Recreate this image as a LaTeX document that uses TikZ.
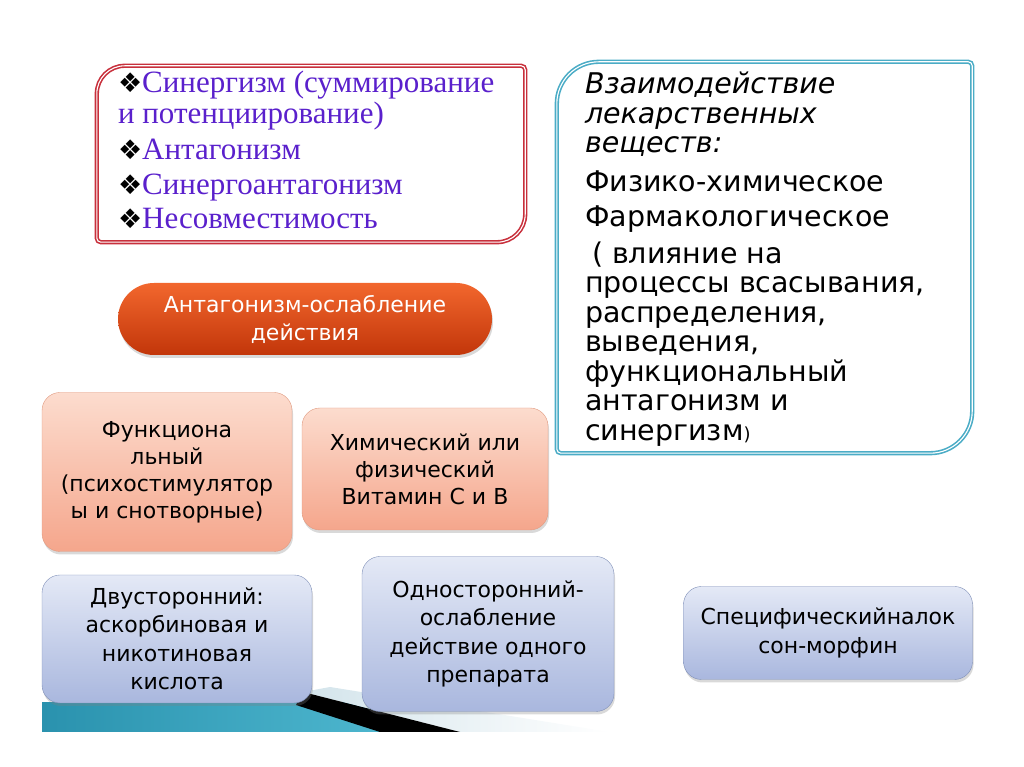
\documentclass[tikz,border=0pt]{standalone}
\usepackage{fontspec}
\setmainfont{DejaVu Sans}
\newfontfamily\tms{Liberation Serif}
\newfontfamily\dvs{DejaVu Sans}
\usepackage{tikz}
\usetikzlibrary{positioning,shadows}
\definecolor{redc}{HTML}{C8303C}
\definecolor{purp}{HTML}{5A20CC}
\definecolor{tealc}{HTML}{4BACC6}
\definecolor{orgt}{HTML}{F2672E}
\definecolor{orgb}{HTML}{C2360A}
\definecolor{salt}{HTML}{FCDCCE}
\definecolor{salb}{HTML}{F5A68C}
\definecolor{sald}{HTML}{E09A80}
\definecolor{lavt}{HTML}{E4E9F6}
\definecolor{lavb}{HTML}{A9B7DE}
\definecolor{lavd}{HTML}{8090B8}
\definecolor{stripd}{HTML}{2A92AE}
\definecolor{stripl}{HTML}{4DB6CE}
\definecolor{bandl}{HTML}{D3E4EB}
\tikzset{
  holder/.style 2 args={minimum width=#1,minimum height=#2,inner sep=0pt},
  dline/.style={draw=#1,line width=1.6pt,double=white,double distance=1.1pt},
  shd/.style={drop shadow={opacity=.3,shadow xshift=1pt,shadow yshift=-3pt}},
  salbox/.style={draw=sald,rounded corners=18pt,top color=salt,bottom color=salb,align=center,shd,
    font=\fontsize{22}{27}\selectfont},
  lavbox/.style={draw=lavd,rounded corners=18pt,top color=lavt,bottom color=lavb,align=center,shd,
    font=\fontsize{22}{28.5}\selectfont},
  pill/.style={rounded corners=36pt,top color=orgt,bottom color=orgb,text=white,align=center,shd,
    minimum width=374,minimum height=72,font=\fontsize{22}{28}\selectfont}
}
\newcommand{\bul}{{\color{black}\dvs\fontsize{27}{27}\selectfont ❖}}
% frame with two large and two small corners
\newcommand{\cbox}[4]{\draw[#4] ([yshift=#3]#1.south west) -- ([yshift=-#2]#1.north west)
  arc[start angle=180,end angle=90,radius=#2] -- ([xshift=-#3]#1.north east)
  arc[start angle=90,end angle=0,radius=#3] -- ([yshift=#2]#1.south east)
  arc[start angle=0,end angle=-90,radius=#2] -- ([xshift=#3]#1.south west)
  arc[start angle=270,end angle=180,radius=#3] -- cycle;}

\begin{document}
\begin{tikzpicture}[x=1pt,y=1pt]
\useasboundingbox (0,0) rectangle (1024,767);
% slide decoration
\shade[left color=stripd,right color=stripl] (42,35) rectangle (382,64);
\shade[left color=bandl,right color=white] (303,75) -- (330,80) -- (610,35) -- (460,35) -- cycle;
\fill[black] (296,62) -- (303,75) -- (460,35) -- (380,35) -- cycle;

\node[holder={428}{176}] (syn) at (311,613) {};
\cbox{syn}{28}{4}{dline=redc}
\node[anchor=north west,align=left,inner sep=0pt,text=purp,font=\tms\fontsize{31}{31}\selectfont]
  (syntxt) at ([xshift=21,yshift=-5]syn.north west)
  {\bul Синергизм (суммирование\\и потенциирование)\\[5pt]\bul Антагонизм\\[4pt]\bul Синергоантагонизм\\[3pt]\bul Несовместимость};

\node[holder={415}{391}] (vz) at (764.5,509.5) {};
\cbox{vz}{42}{4}{dline=tealc}
\node[anchor=north west,align=left,inner sep=0pt,font=\fontsize{28.5}{29.5}\selectfont]
  (vztxt) at ([xshift=28,yshift=-10]vz.north west)
  {\textit{Взаимодействие}\\\textit{лекарственных}\\\textit{веществ:}\\[9pt]Физико-химическое\\[6pt]Фармакологическое\\[7pt]
   \hspace*{7pt}( влияние на\\процессы всасывания,\\распределения,\\выведения,\\функциональный\\антагонизм и\\синергизм{\fontsize{18}{18}\selectfont)}};

\node[pill] (ant) at (305,448) {Антагонизм-ослабление\\действия};

\node[salbox,minimum width=250,minimum height=159] (fun) at (167,295) {Функциона\\льный\\(психостимулятор\\ы и снотворные)};
\node[salbox,minimum width=246,minimum height=122] (him) at (425,298) {Химический или\\физический\\Витамин С и В};

\node[lavbox,minimum width=270,minimum height=128] (dvu) at (177,128) {Двусторонний:\\аскорбиновая и\\никотиновая\\кислота};
\node[lavbox,minimum width=252,minimum height=155] (odn) at (488,133) {Односторонний-\\ослабление\\действие одного\\препарата};
\node[lavbox,minimum width=289,minimum height=93] (spe) at (828,134) {Специфическийналок\\сон-морфин};
\end{tikzpicture}
\end{document}
